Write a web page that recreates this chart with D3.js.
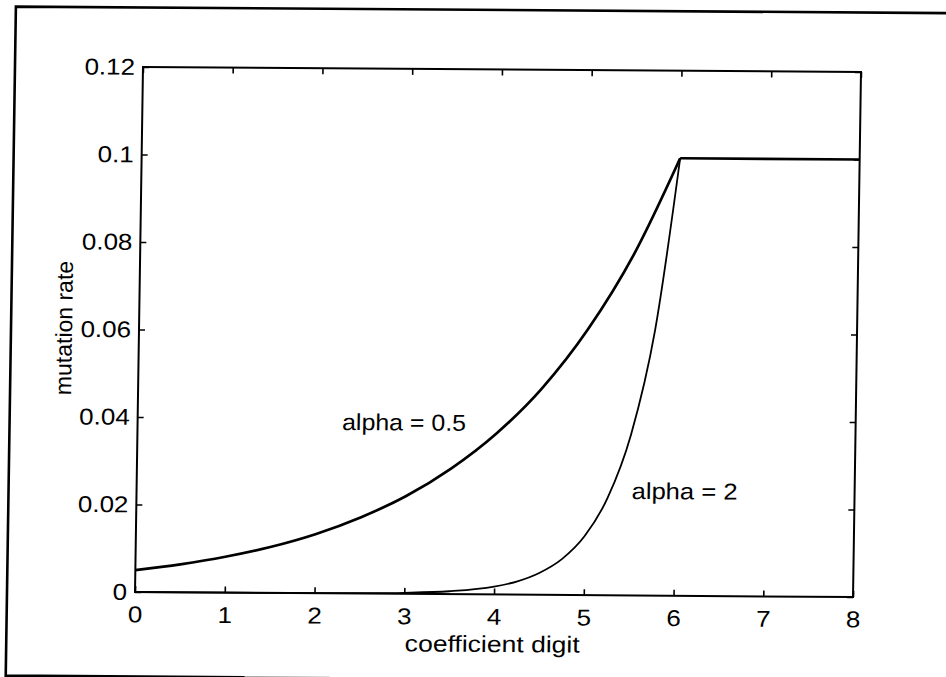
<!DOCTYPE html>
<html>
<head>
<meta charset="utf-8">
<script src="https://cdn.jsdelivr.net/npm/d3@7"></script>
<style>
  html, body { margin: 0; padding: 0; background: #fff; }
  svg { display: block; }
  text { font-family: "Liberation Sans", Arial, Helvetica, sans-serif; fill: #000; }
</style>
</head>
<body>
<svg id="chart" width="946" height="677"></svg>
<script>
// Mutation rate per coefficient digit, two settings of alpha
const xHalf = [0, 0.5, 1, 1.5, 2, 2.5, 3, 3.5, 4, 4.5, 5, 5.5, 6];
const rateHalf = [0.0050, 0.0064, 0.0082, 0.0105, 0.0135, 0.0174, 0.0223, 0.0287, 0.0368, 0.0472, 0.0607, 0.0779, 0.1];

const xTwo = [0, 1, 2, 2.5, 3, 3.5, 4, 4.25, 4.5, 4.75, 5, 5.25, 5.5, 5.75, 6];
const rateTwo = [0, 0, 0.00003, 0.00009, 0.00025, 0.00067, 0.0018, 0.0030, 0.0050, 0.0082, 0.0135, 0.0223, 0.0368, 0.0607, 0.1];

// cap reached beyond digit 6
const xCap = [6, 8];
const rateCap = [0.1, 0.1];

const xTicks = [0, 1, 2, 3, 4, 5, 6, 7, 8];
const yTicks = [0, 0.02, 0.04, 0.06, 0.08, 0.1, 0.12];
const yTickLabels = ["0", "0.02", "0.04", "0.06", "0.08", "0.1", "0.12"];

const labelHalf = "alpha = 0.5";
const labelTwo = "alpha = 2";
const xTitle = "coefficient digit";
const yTitle = "mutation rate";

const W = 946, H = 677;
const plot = { left: 139, right: 857, top: 69.5, bottom: 594.5 };

const svg = d3.select("#chart");
// slight skew of the scanned page
const g = svg.append("g")
  .attr("transform", "translate(498,332) matrix(1,0.007,-0.0152,1,0,0) translate(-498,-332)");

// page frame
g.append("path")
  .attr("d", "M 960 10 H 11 V 679 H 250")
  .attr("fill", "none").attr("stroke", "#000").attr("stroke-width", 2.6);
g.append("path")
  .attr("d", "M 250 679 H 335")
  .attr("fill", "none").attr("stroke", "#888").attr("stroke-width", 2);

const x = d3.scaleLinear().domain([0, 8]).range([plot.left, plot.right]);
const y = d3.scaleLinear().domain([0, 0.12]).range([plot.bottom, plot.top]);

const tickLen = 6;
const stretch = "scale(1.13,1)";

function styleAxis(sel) {
  sel.select(".domain").remove();
  sel.selectAll(".tick line").attr("stroke", "#000").attr("stroke-width", 1.6);
  sel.selectAll(".tick text")
    .attr("font-size", 23)
    .attr("font-family", "Liberation Sans, Arial, sans-serif")
    .attr("fill", "#000");
}

const ax = g.append("g").attr("transform", `translate(0,${plot.bottom})`)
  .call(d3.axisBottom(x).tickValues(xTicks).tickFormat(d3.format("d"))
    .tickSize(-tickLen).tickSizeOuter(0).tickPadding(14));
styleAxis(ax);
ax.selectAll(".tick text").attr("transform", stretch);

const ay = g.append("g").attr("transform", `translate(${plot.left},0)`)
  .call(d3.axisLeft(y).tickValues(yTicks).tickFormat((d, i) => yTickLabels[i])
    .tickSize(-tickLen).tickSizeOuter(0).tickPadding(7));
styleAxis(ay);
ay.selectAll(".tick text").attr("transform", stretch);

const at = g.append("g").attr("transform", `translate(0,${plot.top})`)
  .call(d3.axisTop(x).tickValues(xTicks).tickFormat("").tickSize(-tickLen).tickSizeOuter(0));
styleAxis(at);
const ar = g.append("g").attr("transform", `translate(${plot.right},0)`)
  .call(d3.axisRight(y).tickValues(yTicks).tickFormat("").tickSize(-tickLen).tickSizeOuter(0));
styleAxis(ar);

// axes box
g.append("rect")
  .attr("x", plot.left).attr("y", plot.top)
  .attr("width", plot.right - plot.left).attr("height", plot.bottom - plot.top)
  .attr("fill", "none").attr("stroke", "#000").attr("stroke-width", 2);

// curves
const line = d3.line().x(d => x(d[0])).y(d => y(d[1])).curve(d3.curveMonotoneX);

g.append("path")
  .datum(d3.zip(xTwo, rateTwo))
  .attr("d", line)
  .attr("fill", "none").attr("stroke", "#000").attr("stroke-width", 1.8)
  .attr("stroke-linejoin", "round");

g.append("path")
  .datum(d3.zip(xHalf, rateHalf))
  .attr("d", line)
  .attr("fill", "none").attr("stroke", "#000").attr("stroke-width", 2.7)
  .attr("stroke-linejoin", "round");

g.append("path")
  .datum(d3.zip(xCap, rateCap))
  .attr("d", d3.line().x(d => x(d[0])).y(d => y(d[1])))
  .attr("fill", "none").attr("stroke", "#000").attr("stroke-width", 2.7);

// annotations
g.append("text")
  .attr("x", 343.5).attr("y", 431)
  .attr("font-size", 23)
  .attr("textLength", 124).attr("lengthAdjust", "spacingAndGlyphs")
  .text(labelHalf);

g.append("text")
  .attr("x", 634).attr("y", 498)
  .attr("font-size", 23)
  .attr("textLength", 106).attr("lengthAdjust", "spacingAndGlyphs")
  .text(labelTwo);

// axis titles
g.append("text")
  .attr("x", 497).attr("y", 652)
  .attr("text-anchor", "middle")
  .attr("font-size", 23)
  .attr("textLength", 175).attr("lengthAdjust", "spacingAndGlyphs")
  .text(xTitle);

g.append("text")
  .attr("transform", "translate(72,331) rotate(-90)")
  .attr("text-anchor", "middle")
  .attr("font-size", 23)
  .text(yTitle);
</script>
</body>
</html>
